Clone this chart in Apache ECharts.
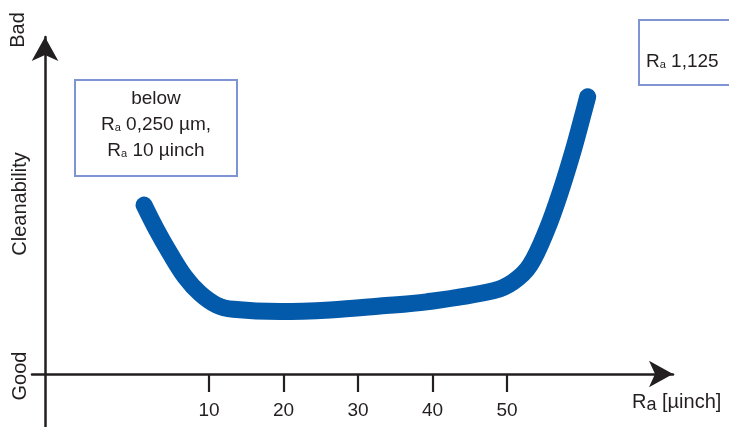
<!DOCTYPE html>
<html><head><meta charset="utf-8">
<script src="https://cdn.jsdelivr.net/npm/echarts@6/dist/echarts.min.js"></script>
<style>html,body{margin:0;padding:0;background:#fff}#c{width:729px;height:427px}</style>
</head><body><div id="c"></div>
<script>
// Data
const xTicks = [10, 20, 30, 40, 50];
const curveX = [1.28, 2.98, 4.77, 6.78, 8.79, 11.03, 13.26, 19.53, 26.24, 32.95, 39.22, 48.16, 50.85, 53.09, 55.33, 57.11, 58.9, 60.24, 60.83];
const curveY = [52.0, 44.3, 37.1, 29.9, 24.8, 21.2, 19.9, 19.2, 19.7, 20.9, 22.2, 25.6, 28.4, 33.5, 44.3, 55.6, 68.9, 80.2, 85.3];
const yLabels = ['Bad', 'Cleanability', 'Good'];
const leftBoxText = 'below\nR{s|a} 0,250 µm,\nR{s|a} 10 µinch';
const rightBoxText = 'R{s|a} 1,125';
const xName = 'R{s|a} [µinch]';

const FONT = '"Liberation Sans", Arial, Helvetica, sans-serif';
const INK = '#231f20';
const BLUE = '#045aaa';
const BOX = '#7f94d2';

const chart = echarts.init(document.getElementById('c'), null, {renderer: 'canvas'});
const subRich = {s: {fontSize: 11, fontFamily: FONT, fill: INK, lineHeight: 11, padding: [5, 0, 0, 0]}};

chart.setOption({
  backgroundColor: '#fff',
  animation: false,
  grid: {left: 32, right: 56, top: 37, bottom: 0, containLabel: false, outerBoundsMode: 'none'},
  xAxis: {
    type: 'value', min: -13.76, max: 72.28,
    splitLine: {show: false},
    axisLine: {onZero: true, lineStyle: {color: INK, width: 2.5}, symbol: ['none', 'arrow'], symbolSize: [20, 24]},
    axisTick: {show: true, customValues: xTicks, length: 18, inside: false, lineStyle: {color: INK, width: 2.2}},
    axisLabel: {show: true, customValues: xTicks, margin: -26, fontSize: 19, fontFamily: FONT, color: INK}
  },
  yAxis: {
    type: 'value', min: -16.31, max: 103.7, offset: -13,
    splitLine: {show: false},
    axisLine: {onZero: false, lineStyle: {color: INK, width: 2.5}, symbol: ['none', 'arrow'], symbolSize: [20, 24]},
    axisTick: {show: false},
    axisLabel: {show: false}
  },
  series: [{
    type: 'line',
    data: curveX.map((x, i) => [x, curveY[i]]),
    smooth: 0.35,
    showSymbol: false,
    lineStyle: {color: BLUE, width: 17, cap: 'round', join: 'round'}
  }],
  graphic: [
    {type: 'text', x: 18, y: 30, rotation: Math.PI / 2, style: {text: yLabels[0], fontSize: 20, fontFamily: FONT, fill: INK, align: 'center', verticalAlign: 'middle'}},
    {type: 'text', x: 20, y: 204, rotation: Math.PI / 2, style: {text: yLabels[1], fontSize: 20, fontFamily: FONT, fill: INK, align: 'center', verticalAlign: 'middle'}},
    {type: 'text', x: 20, y: 376, rotation: Math.PI / 2, style: {text: yLabels[2], fontSize: 20, fontFamily: FONT, fill: INK, align: 'center', verticalAlign: 'middle'}},
    {type: 'rect', shape: {x: 75, y: 80, width: 162, height: 96}, style: {fill: '#fff', stroke: BOX, lineWidth: 2}},
    {type: 'text', x: 156, y: 125, style: {text: leftBoxText, fontSize: 19, lineHeight: 26, fontFamily: FONT, fill: INK, align: 'center', verticalAlign: 'middle', rich: subRich}},
    {type: 'rect', shape: {x: 639, y: 20, width: 140, height: 65}, style: {fill: '#fff', stroke: BOX, lineWidth: 2}},
    {type: 'text', x: 646, y: 62, style: {text: rightBoxText, fontSize: 19, lineHeight: 26, fontFamily: FONT, fill: INK, align: 'left', verticalAlign: 'middle', rich: subRich}},
    {type: 'text', x: 632, y: 402, style: {text: xName, fontSize: 20, lineHeight: 24, fontFamily: FONT, fill: INK, align: 'left', verticalAlign: 'middle',
      rich: {s: {fontSize: 18, fontFamily: FONT, fill: INK, lineHeight: 18, padding: [6, 0, 0, 0]}}}}
  ]
});
</script></body></html>
